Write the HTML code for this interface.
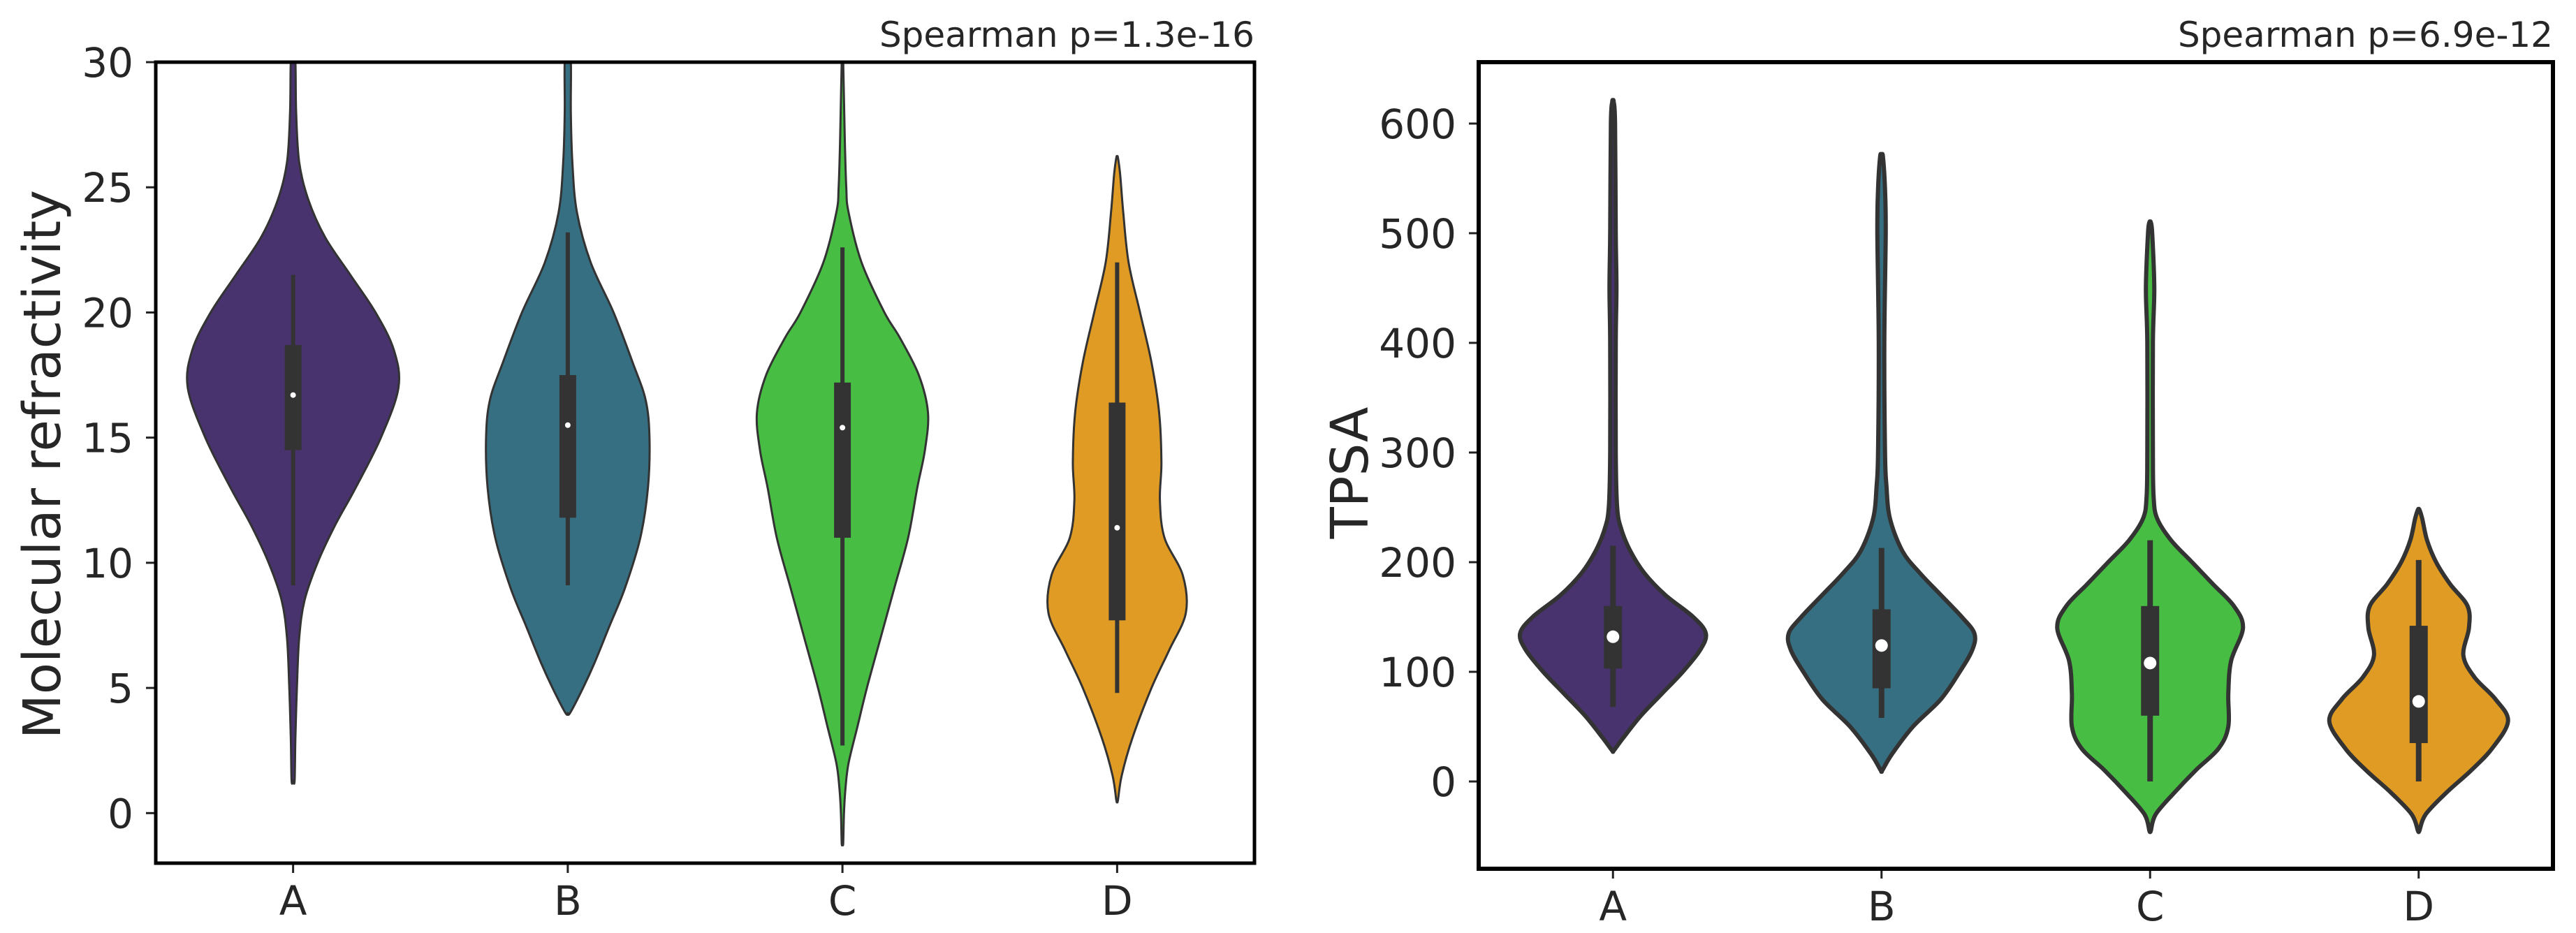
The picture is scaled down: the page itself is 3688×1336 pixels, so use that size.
<!DOCTYPE html>
<html><head><meta charset="utf-8"><style>
html,body{margin:0;padding:0;background:#fff;}
svg{display:block;}
text{font-family:"DejaVu Sans","Liberation Sans",sans-serif;fill:#262626;}
</style></head><body>
<svg id="fig" width="3688" height="1336" viewBox="0 0 3688 1336" xmlns="http://www.w3.org/2000/svg"></svg>
<script>
const categories = ["A","B","C","D"];
const colors = ["#48336f","#366f82","#47be43","#e09b24"];
// Left panel: Molecular refractivity — density grids (value levels, relative half widths)
const mrLevels = [
  [1.3,3,5,7,8.5,10,11.5,13,15,17,18.5,20,21.5,23,24.5,26,28,30],
  [4,5,6,7.5,9,11,13,15,16.5,18,20,22,24,26,28,30],
  [-1.2,0,1,2,3.5,5,7,9,11,13,14.5,16,17.5,19,20,22,24,25,27,30],
  [0.5,1.5,3,5,6.5,8,9.5,11,12.5,14,16,18,20,22,24,25.5,26.2]
];
const mrWidths = [
  [2,3,5,8,15,32,55,82,115,138,132,108,75,42,20,8,4,3],
  [3,20,35,55,75,95,105,107,102,85,60,30,12,6,4,4],
  [1,2,4,8,20,32,50,68,86,98,108,112,100,75,55,25,8,5,3,1],
  [1,6,20,45,68,90,86,62,56,58,55,45,30,15,8,4,1]
];
const mrWhiskerLo = [9.1,9.1,2.7,4.8];
const mrWhiskerHi = [21.5,23.2,22.6,22.0];
const mrQ1 = [14.5,11.8,11.0,7.7];
const mrQ3 = [18.7,17.5,17.2,16.4];
const mrMedian = [16.7,15.5,15.4,11.4];
const mrTicks = [0,5,10,15,20,25,30];
// Right panel: TPSA
const tpLevels = [
  [28,40,60,80,100,120,135,150,170,190,210,230,250,300,400,450,500,600,620],
  [10,25,50,75,100,120,135,150,170,190,210,240,270,300,400,500,540,570],
  [-45,-30,-10,10,30,50,80,110,140,160,180,200,220,240,260,300,400,450,500,510],
  [-45,-30,-10,10,30,55,75,95,115,140,160,180,200,220,240,248]
];
const tpWidths = [
  [1,15,40,70,100,125,133,115,75,45,25,12,6,4,4,5,4,3,1],
  [1,15,45,85,112,130,133,115,85,55,30,12,7,5,4,6,5,2],
  [1,8,35,65,98,112,112,116,133,120,90,60,30,10,5,4,4,6,3,1],
  [1,10,40,75,105,128,110,80,64,72,70,45,25,12,5,1]
];
const tpWhiskerLo = [68,58,0,0];
const tpWhiskerHi = [215,213,220,202];
const tpQ1 = [103,85,60,35];
const tpQ3 = [160,157,160,142];
const tpMedian = [132,124,108,73];
const tpTicks = [0,100,200,300,400,500,600];

const NS="http://www.w3.org/2000/svg";
const svg=document.getElementById('fig');
function mk(tag,attrs,parent){const e=document.createElementNS(NS,tag);for(const k in attrs)e.setAttribute(k,attrs[k]);(parent||svg).appendChild(e);return e;}
function smooth(pts){
  let d="M"+pts[0][0]+","+pts[0][1];
  for(let i=0;i<pts.length-1;i++){
    const p0=pts[Math.max(0,i-1)],p1=pts[i],p2=pts[i+1],p3=pts[Math.min(pts.length-1,i+2)];
    const c1=[p1[0]+(p2[0]-p0[0])/6,p1[1]+(p2[1]-p0[1])/6];
    const c2=[p2[0]-(p3[0]-p1[0])/6,p2[1]-(p3[1]-p1[1])/6];
    d+=" C"+c1[0]+","+c1[1]+" "+c2[0]+","+c2[1]+" "+p2[0]+","+p2[1];
  }
  return d;
}
function panel(cfg){
  const g=mk('g',{});
  
  
  const {x0,x1,y0,y1,vmin,vmax}=cfg;
  const step=(x1-x0)/categories.length;
  const xs=i=>x0+step*(i+0.5);
  const ys=v=>y1-(v-vmin)/(vmax-vmin)*(y1-y0);
  const clip=mk('clipPath',{id:cfg.name+'-clip'},g);
  mk('rect',{x:x0,y:y0,width:x1-x0,height:y1-y0},clip);
  const plot=mk('g',{'clip-path':'url(#'+cfg.name+'-clip)'},g);
  categories.forEach((c,i)=>{
    const lv=cfg.levels[i],wd=cfg.widths[i],cx=xs(i);
    const right=lv.map((v,j)=>[cx+wd[j]*cfg.wscale*step,ys(v)]);
    const left=lv.map((v,j)=>[cx-wd[j]*cfg.wscale*step,ys(v)]).reverse();
    const pts=[[cx,ys(lv[0])]].concat(right,[[cx,ys(lv[lv.length-1])]],left,[[cx,ys(lv[0])]]);
    const p=mk('path',{d:smooth(pts)+"Z",fill:colors[i],stroke:"#333",'stroke-width':cfg.lw,'stroke-linejoin':'round'},plot);
    
    
    const wh=mk('line',{x1:cx,x2:cx,y1:ys(cfg.wlo[i]),y2:ys(cfg.whi[i]),stroke:"#333",'stroke-width':cfg.whw},plot);
    
    
    const bx=mk('rect',{x:cx-cfg.bw/2,y:ys(cfg.q3[i]),width:cfg.bw,height:ys(cfg.q1[i])-ys(cfg.q3[i]),fill:"#333"},plot);
    
    
    const md=mk('circle',{cx:cx,cy:ys(cfg.med[i]),r:cfg.mr,fill:"#fff"},plot);
    
    
    const tk=mk('line',{x1:cx,x2:cx,y1:y1,y2:y1+14,stroke:"#222",'stroke-width':3},g);
    
    
    const tl=mk('text',{x:cx,y:y1+74,'text-anchor':'middle','font-size':58},g);
    tl.textContent=c;
    
    
  });
  cfg.ticks.forEach(t=>{
    const y=ys(t);
    const tk=mk('line',{x1:x0-14,x2:x0,y1:y,y2:y,stroke:"#222",'stroke-width':3},g);
    
    
    const tl=mk('text',{x:x0-32,y:y+21,'text-anchor':'end','font-size':58},g);
    tl.textContent=t;
    
    
  });
  const fr=mk('rect',{x:x0,y:y0,width:x1-x0,height:y1-y0,fill:'none',stroke:'#000','stroke-width':cfg.fw},g);
  
  
  const yl=mk('text',{transform:`translate(${cfg.ylx},${cfg.yly}) rotate(-90)`,'text-anchor':'middle','font-size':74},g);
  yl.textContent=cfg.ylabel;
  
  
  const ti=mk('text',{x:x1,y:y0-22,'text-anchor':'end','font-size':50},g);
  ti.textContent=cfg.title;
  
  
}
panel({name:'mr-panel',x0:223,x1:1796,y0:89,y1:1236,vmin:-2,vmax:30,levels:mrLevels,widths:mrWidths,
  wscale:0.00278,wlo:mrWhiskerLo,whi:mrWhiskerHi,q1:mrQ1,q3:mrQ3,med:mrMedian,ticks:mrTicks,
  lw:3,whw:6,bw:24,mr:4,fw:5,ylx:86,yly:665,ylabel:'Molecular refractivity',title:'Spearman p=1.3e-16'});
panel({name:'tpsa-panel',x0:2117,x1:3655,y0:89,y1:1244,vmin:-79.6,vmax:656,levels:tpLevels,widths:tpWidths,
  wscale:0.0026,wlo:tpWhiskerLo,whi:tpWhiskerHi,q1:tpQ1,q3:tpQ3,med:tpMedian,ticks:tpTicks,
  lw:6,whw:8,bw:26,mr:9,fw:6,ylx:1958,yly:677,ylabel:'TPSA',title:'Spearman p=6.9e-12'});
</script>
</body></html>
